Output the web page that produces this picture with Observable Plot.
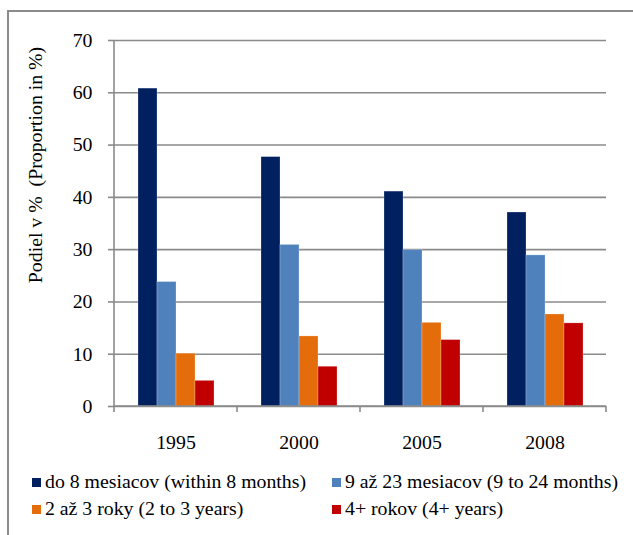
<!DOCTYPE html>
<html>
<head>
<meta charset="utf-8">
<script src="https://cdn.jsdelivr.net/npm/d3@7"></script>
<script src="https://cdn.jsdelivr.net/npm/@observablehq/plot@0.6"></script>
<style>
  html, body { margin: 0; padding: 0; background: #fff; }
  #wrap { position: relative; width: 633px; height: 535px; overflow: hidden; background: #fff;
          font-family: "Liberation Serif", "Times New Roman", Times, serif; color: #000; }
  #border { position: absolute; left: 7px; top: 10px; width: 700px; height: 600px;
            border-left: 2px solid #8c8c8c; border-top: 2px solid #8c8c8c; box-sizing: border-box; }
  #chart { position: absolute; left: 0; top: 0; }
  #ylabel { position: absolute; left: 36px; top: 165px; white-space: nowrap; font-size: 19.8px; line-height: 1;
            transform: translate(-50%, -50%) rotate(-90deg); }
  .leg { position: absolute; font-size: 19.8px; line-height: 1; white-space: nowrap; display: flex; align-items: center; }
  .leg .sw { width: 9px; height: 9px; margin-right: 4px; display: inline-block; }
</style>
</head>
<body>
<div id="wrap">
  <div id="border"></div>
  <div id="chart"></div>
  <div id="ylabel">Podiel v %&nbsp; (Proportion in %)</div>
  <div id="legend"></div>
</div>
<script>
const years = ["1995", "2000", "2005", "2008"];
const seriesNames = [
  "do 8 mesiacov (within 8 months)",
  "9 až 23 mesiacov (9 to 24 months)",
  "2 až 3 roky (2 to 3 years)",
  "4+ rokov (4+ years)"
];
const within8 = [60.8, 47.7, 41.1, 37.1];
const from9to23 = [23.8, 30.9, 29.9, 28.9];
const from2to3 = [10.1, 13.4, 16.0, 17.6];
const over4 = [4.9, 7.6, 12.7, 15.9];
const seriesColors = ["#002060", "#4f81bd", "#e46c0a", "#c00000"];
const yTicks = [0, 10, 20, 30, 40, 50, 60, 70];

const seriesValues = [within8, from9to23, from2to3, over4];
const table = [];
years.forEach((yr, i) => {
  seriesNames.forEach((s, j) => table.push({year: yr, series: s, value: seriesValues[j][i]}));
});

const gridColor = "#8a8a8a";

const plot = Plot.plot({
  width: 633,
  height: 460,
  marginLeft: 113,
  marginRight: 26,
  marginTop: 40,
  marginBottom: 54,
  style: {fontFamily: "'Liberation Serif', 'Times New Roman', Times, serif", fontSize: "19.8px", color: "#000", background: "transparent", overflow: "visible"},
  fx: {domain: years, padding: 0, label: null},
  x: {domain: seriesNames, paddingInner: 0, paddingOuter: 1.13, axis: null},
  y: {domain: [0, 70], label: null},
  color: {domain: seriesNames, range: seriesColors},
  marks: [
    Plot.gridY(yTicks, {stroke: gridColor, strokeOpacity: 1, strokeWidth: 1.6}),
    Plot.axisY(yTicks, {tickSize: 6, tickPadding: 16, stroke: gridColor, strokeWidth: 1.6, fill: "#000", label: null}),
    Plot.axisFx({anchor: "bottom", tickSize: 0, tickPadding: 28, label: null, fill: "#000"}),
    Plot.barY(table, {fx: "year", x: "series", y: "value", fill: "series", stroke: "#ffffff", strokeOpacity: 0.3, strokeWidth: 0.8})
  ]
});
document.getElementById("chart").appendChild(plot);

// Axis lines and boundary ticks (Excel style) from the plot's own scales
const fx = plot.scale("fx"), y = plot.scale("y");
const svg = d3.select(plot);
const left = fx.apply(years[0]);
const bounds = years.map(v => fx.apply(v)).concat([fx.apply(years[years.length - 1]) + fx.step]);
const y0 = y.apply(0), yTop = y.apply(70);
const g = svg.append("g").attr("stroke", gridColor).attr("stroke-width", 1.6);
g.append("line").attr("x1", left).attr("x2", left).attr("y1", yTop).attr("y2", y0);
g.append("line").attr("x1", left).attr("x2", bounds[bounds.length - 1]).attr("y1", y0).attr("y2", y0);
g.selectAll("line.bt").data(bounds).join("line").attr("class", "bt")
  .attr("x1", d => d).attr("x2", d => d).attr("y1", y0).attr("y2", y0 + 6);

// Legend
const legendPos = [
  {left: 32, top: 482}, {left: 332, top: 482},
  {left: 32, top: 509}, {left: 332, top: 509}
];
const legend = document.getElementById("legend");
seriesNames.forEach((s, i) => {
  const item = document.createElement("div");
  item.className = "leg";
  item.style.left = legendPos[i].left + "px";
  item.style.top = (legendPos[i].top - 10) + "px";
  item.style.height = "20px";
  const sw = document.createElement("span");
  sw.className = "sw";
  sw.style.background = seriesColors[i];
  const tx = document.createElement("span");
  tx.textContent = s;
  item.appendChild(sw);
  item.appendChild(tx);
  legend.appendChild(item);
});
</script>
</body>
</html>
